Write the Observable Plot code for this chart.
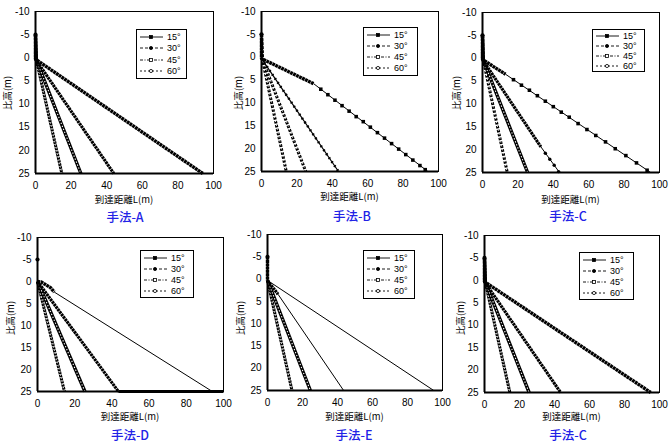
<!DOCTYPE html>
<html><head><meta charset="utf-8">
<script src="https://cdn.jsdelivr.net/npm/d3@7"></script>
<script src="https://cdn.jsdelivr.net/npm/@observablehq/plot@0.6"></script>
<style>
body{margin:0;background:#fff;}
#root{position:relative;width:671px;height:446px;background:#fff;overflow:hidden;font-family:"Liberation Sans","Noto Sans CJK JP",sans-serif;}
.abs{position:absolute;}
.title{position:absolute;font-family:"Noto Sans CJK JP",sans-serif;font-size:12.5px;line-height:13px;font-weight:500;color:#2222e6;transform:translate(-50%,-50%);white-space:nowrap;}
.xlab{position:absolute;font-family:"Noto Sans CJK JP",sans-serif;font-size:9.5px;line-height:10px;color:#000;transform:translate(-50%,-50%);white-space:nowrap;}
.ylab{position:absolute;font-family:"Noto Sans CJK JP",sans-serif;font-size:9.5px;line-height:10px;color:#000;transform:translate(-50%,-50%) rotate(-90deg);white-space:nowrap;}
.legend{position:absolute;border:1px solid #000;background:#fff;box-sizing:border-box;padding:1px 2px;display:flex;flex-direction:column;justify-content:space-around;}
.legend .row{display:flex;align-items:center;height:10px;line-height:10px;font-size:9px;font-family:"Liberation Sans",sans-serif;}
.legend svg{margin-right:4px;flex:none;}
</style></head>
<body><div id="root"></div>
<script>
// ---- axis ticks & labels ----
const xTicks = [0, 20, 40, 60, 80, 100];
const yTicks = [-10, -5, 0, 5, 10, 15, 20, 25];
const angleLabels = ["15°", "30°", "45°", "60°"];
const methodTitles = ["手法-A", "手法-B", "手法-C", "手法-D", "手法-E", "手法-C"];
const xLabel = "到達距離L(m)";
const yLabel = "比高(m)";

// ---- 手法-A ----
const A15 = [[0,-5],[0,0.3],[94,25]];
const A30 = [[0,-5],[0,0.3],[44,25]];
const A45 = [[0,-5],[0.5,0.5],[25.5,25]];
const A60 = [[0,-5],[0.5,0.5],[14.8,25]];

// ---- 手法-B ----
const B15 = [[0,-5],[0,0.3],[29.5,5.8]];
const B15tail = [[29.5,5.8],[94,25]];
const B15pts = [[33.5,7.0],[37.5,8.2],[41.5,9.4],[45.5,10.6],[49.5,11.8],[53.5,13.0],[57.5,14.1],[61.5,15.3],[65.5,16.5],[69.5,17.7],[73.5,18.9],[77.5,20.1],[81.5,21.3],[85.5,22.5],[89.5,23.7],[92.5,24.6]];
const B30 = [[0,-5],[0,0.3],[43.5,25]];
const B45 = [[0,-5],[0.5,0.5],[25,25]];
const B60 = [[0,-5],[0.5,0.5],[14,25]];

// ---- 手法-C (上) ----
const C15 = [[0,-5],[0,0.3],[13,3.5]];
const C15tail = [[13,3.5],[95,25]];
const C15pts = [[17.5,4.7],[22,5.9],[26.5,7.0],[31,8.2],[35.5,9.4],[40,10.6],[44.5,11.8],[49,12.9],[54,14.3],[59,15.6],[64,16.9],[69.5,18.3],[75,19.8],[81,21.3],[87,22.9],[93,24.5]];
const C30 = [[0,-5],[0,0.3],[33,19.4]];
const C30tail = [[33,19.4],[43.5,25]];
const C30pts = [[35.5,20.8],[38,22.1],[40.5,23.4],[43,24.8]];
const C45 = [[0,-5],[0.5,0.5],[25.5,25]];
const C60 = [[0,-5],[0.5,0.5],[14,25]];

// ---- 手法-D ----
const Dstart = [[0,-5]];
const D15 = [[0,0],[2,0.1],[7,1.4],[9,2.4]];
const D15tail = [[9,2.4],[94,25]];
const D30 = [[0,0],[43.5,25]];
const D30floor = [[43.5,25],[100,25]];
const D45 = [[0,0],[25.5,25]];
const D60 = [[0,0],[14.5,25]];

// ---- 手法-E ----
const Ecol = [[0,-5],[0,0.3]];
const E15 = [[0,0.3],[95,25]];
const E30 = [[0,0.3],[6,3.4]];
const E30tail = [[6,3.4],[43.5,25]];
const E45 = [[0,0.3],[24.5,25]];
const E60 = [[0,0.3],[14,25]];

// ---- 手法-C (下) ----
const F15 = [[0,-5],[0,0.3],[95,25]];
const F30 = [[0,-5],[0,0.3],[43.5,25]];
const F45 = [[0,-5],[0.5,0.5],[25.5,25]];
const F60 = [[0,-5],[0.5,0.5],[14.5,25]];

const X = d => d[0], Y = d => d[1];
const base = {x: X, y: Y, strokeLinecap: "butt", strokeLinejoin: "miter"};
const st = {
  beadS: d => [Plot.line(d, {...base, stroke:"#000", strokeWidth:3.4, strokeDasharray:"2.8,0.5"})],
  beadC: d => [Plot.line(d, {...base, stroke:"#000", strokeWidth:3.1, strokeDasharray:"2.5,0.6"})],
  beadH: d => [Plot.line(d, {...base, stroke:"#000", strokeWidth:3.4}),
               Plot.line(d, {...base, stroke:"#fff", strokeWidth:1.1, strokeDasharray:"1.3,1.9"})],
  beadO: d => [Plot.line(d, {...base, stroke:"#000", strokeWidth:3.0, strokeDasharray:"2.6,0.6"}),
               Plot.line(d, {...base, stroke:"#fff", strokeWidth:0.9, strokeDasharray:"1,2.2"})],
  sparseC: d => [Plot.line(d, {...base, stroke:"#000", strokeWidth:1.2}),
                 Plot.line(d, {...base, stroke:"#000", strokeWidth:2.6, strokeDasharray:"1.6,3.2"})],
  sparseH: d => [Plot.line(d, {...base, stroke:"#000", strokeWidth:3.0, strokeDasharray:"2.6,1.4"}),
                 Plot.line(d, {...base, stroke:"#fff", strokeWidth:1.0, strokeDasharray:"1,3"})],
  thin: d => [Plot.line(d, {...base, stroke:"#000", strokeWidth:1})],
  floor: d => [Plot.line(d, {...base, stroke:"#000", strokeWidth:3})],
  ptsS: d => [Plot.dot(d, {x:X, y:Y, symbol:"square", r:2, fill:"#000"})],
  ptsC: d => [Plot.dot(d, {x:X, y:Y, r:1.7, fill:"#000"})],
  start: d => [Plot.dot(d, {x:X, y:Y, r:2.1, fill:"#000"})]
};

const panels = [
  {g:{x0:35,x1:213,yT:11,yB:173}, title:{x:125,y:216}, xl:199, yl:{x:7,y:93}, lg:{x:136,y:29,w:51,h:50},
   s:[["beadO",A60],["beadH",A45],["beadC",A30],["beadS",A15],["start",[[0,-5]]]]},
  {g:{x0:261,x1:438,yT:11,yB:171}, title:{x:352,y:215}, xl:196, yl:{x:238,y:93}, lg:{x:363,y:27,w:55,h:49},
   s:[["sparseH",B60],["sparseH",B45],["sparseC",B30],["beadS",B15],["thin",B15tail],["ptsS",B15pts],["start",[[0,-5]]]]},
  {g:{x0:482,x1:659,yT:12,yB:172}, title:{x:568,y:215}, xl:199, yl:{x:456,y:93}, lg:{x:592,y:29,w:53,h:43},
   s:[["sparseH",C60],["beadH",C45],["beadC",C30],["thin",C30tail],["ptsC",C30pts],["beadS",C15],["thin",C15tail],["ptsS",C15pts],["start",[[0,-5]]]]},
  {g:{x0:37,x1:223,yT:237,yB:391}, title:{x:130,y:434}, xl:415.5, yl:{x:10,y:318}, lg:{x:140,y:250,w:54,h:48},
   s:[["beadO",D60],["beadH",D45],["beadC",D30],["floor",D30floor],["beadS",D15],["thin",D15tail],["start",Dstart]]},
  {g:{x0:267,x1:442,yT:234,yB:390}, title:{x:354,y:434}, xl:415.5, yl:{x:240,y:318}, lg:{x:363,y:250,w:52,h:49},
   s:[["beadO",E60],["beadH",E45],["beadC",E30],["thin",E30tail],["thin",E15],["beadS",Ecol],["start",[[0,-5]]]]},
  {g:{x0:484,x1:659,yT:235,yB:392}, title:{x:568,y:434}, xl:415.5, yl:{x:460,y:318}, lg:{x:579,y:252,w:55,h:48},
   s:[["beadO",F60],["beadH",F45],["beadC",F30],["beadS",F15],["start",[[0,-5]]]]}
];

const root = document.getElementById("root");
const mL = 32, mR = 6, mT = 8, mB = 20;

function legendSample(i){
  const ns = "http://www.w3.org/2000/svg";
  const svg = document.createElementNS(ns, "svg");
  svg.setAttribute("width", 24); svg.setAttribute("height", 8);
  const line = document.createElementNS(ns, "line");
  line.setAttribute("x1", 1); line.setAttribute("x2", 24); line.setAttribute("y1", 4); line.setAttribute("y2", 4);
  line.setAttribute("stroke", "#000"); line.setAttribute("stroke-width", 0.9);
  const dashes = [null, "3,2", "3,1.5,1,1.5", "2,2"];
  if (dashes[i]) line.setAttribute("stroke-dasharray", dashes[i]);
  svg.appendChild(line);
  let m;
  if (i === 0 || i === 2) {
    m = document.createElementNS(ns, "rect");
    m.setAttribute("x", 10.5); m.setAttribute("y", 2.5); m.setAttribute("width", 3); m.setAttribute("height", 3);
  } else {
    m = document.createElementNS(ns, "circle");
    m.setAttribute("cx", 12); m.setAttribute("cy", 4); m.setAttribute("r", 1.6);
  }
  m.setAttribute("stroke", "#000"); m.setAttribute("stroke-width", 0.8);
  m.setAttribute("fill", (i < 2) ? "#000" : "#fff");
  svg.appendChild(m);
  return svg;
}

panels.forEach((p, k) => {
  const g = p.g;
  const w = (g.x1 - g.x0) + mL + mR;
  const h = (g.yB - g.yT) + mT + mB;
  const marks = [];
  p.s.forEach(([style, data]) => marks.push(...st[style](data)));
  const chart = Plot.plot({
    width: w, height: h,
    marginLeft: mL, marginRight: mR, marginTop: mT, marginBottom: mB,
    style: {fontFamily: '"Liberation Sans", sans-serif', fontSize: "10px", color: "#000", background: "transparent", overflow: "visible"},
    x: {domain: [0, 100]},
    y: {domain: [-10, 25], reverse: true},
    marks: [
      Plot.frame({stroke: "#000", strokeWidth: 1}),
      Plot.axisX({ticks: xTicks, tickSize: 0, tickPadding: 8, label: null, tickFormat: d => String(d)}),
      Plot.axisY({ticks: yTicks, tickSize: 0, tickPadding: 6, label: null, tickFormat: d => String(d)}),
      ...marks,
      Plot.ruleX([0], {stroke: "#000", strokeWidth: 2}),
      Plot.ruleY([25], {stroke: "#000", strokeWidth: 2})
    ]
  });
  chart.classList.add("abs");
  chart.style.left = (g.x0 - mL) + "px";
  chart.style.top = (g.yT - mT) + "px";
  root.appendChild(chart);

  const t = document.createElement("div");
  t.className = "title"; t.textContent = methodTitles[k];
  t.style.left = p.title.x + "px"; t.style.top = p.title.y + "px";
  root.appendChild(t);

  const xl = document.createElement("div");
  xl.className = "xlab"; xl.textContent = xLabel;
  xl.style.left = ((g.x0 + g.x1) / 2) + "px"; xl.style.top = p.xl + "px";
  root.appendChild(xl);

  const yl = document.createElement("div");
  yl.className = "ylab"; yl.textContent = yLabel;
  yl.style.left = p.yl.x + "px"; yl.style.top = p.yl.y + "px";
  root.appendChild(yl);

  const lg = document.createElement("div");
  lg.className = "legend";
  lg.style.left = p.lg.x + "px"; lg.style.top = p.lg.y + "px";
  lg.style.width = p.lg.w + "px"; lg.style.height = p.lg.h + "px";
  angleLabels.forEach((lab, i) => {
    const row = document.createElement("div");
    row.className = "row";
    row.appendChild(legendSample(i));
    const sp = document.createElement("span");
    sp.textContent = lab;
    row.appendChild(sp);
    lg.appendChild(row);
  });
  root.appendChild(lg);
});
</script>
</body></html>
